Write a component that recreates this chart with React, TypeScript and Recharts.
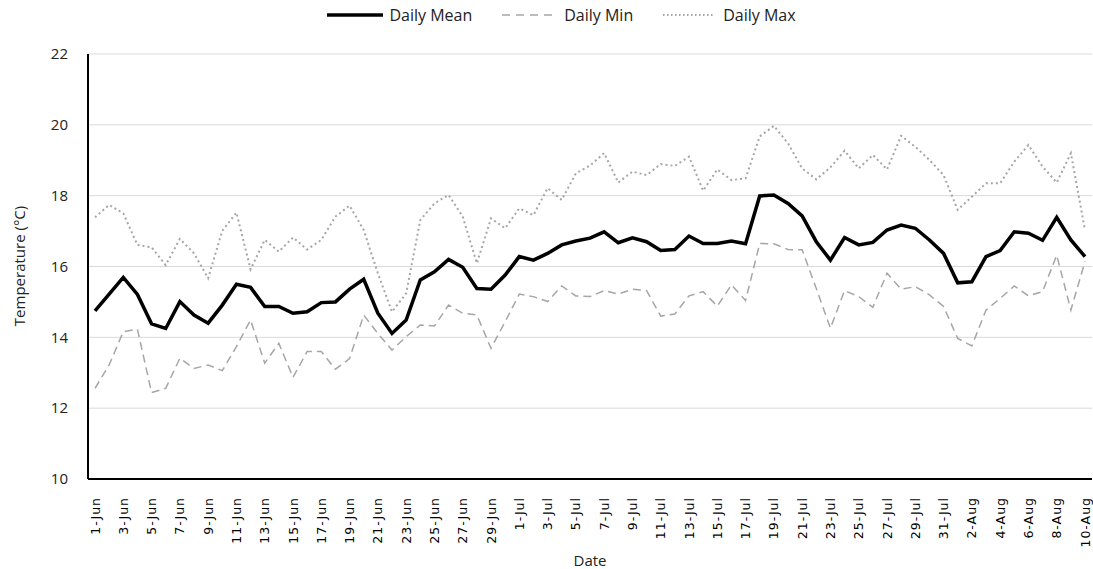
import { LineChart, Line, XAxis, YAxis, CartesianGrid, Legend } from 'recharts';

// dates 1-Jun .. 10-Aug
const months: [string, number][] = [['Jun', 30], ['Jul', 31], ['Aug', 10]];
const dates: string[] = months.flatMap(([m, n]) => Array.from({ length: n }, (_, i) => `${i + 1}-${m}`));

const dailyMean = [
  14.75, 15.22, 15.69, 15.21, 14.38, 14.25, 15.01, 14.63, 14.4, 14.91,
  15.5, 15.41, 14.87, 14.87, 14.68, 14.72, 14.98, 15.0, 15.36, 15.64,
  14.68, 14.11, 14.49, 15.62, 15.85, 16.2, 15.98, 15.38, 15.36, 15.76,
  16.28, 16.18, 16.37, 16.61, 16.72, 16.8, 16.98, 16.67, 16.81, 16.7,
  16.45, 16.48, 16.86, 16.65, 16.65, 16.72, 16.64, 17.99, 18.02, 17.78,
  17.43, 16.7, 16.18, 16.82, 16.61, 16.68, 17.03, 17.17, 17.08, 16.75,
  16.37, 15.54, 15.57, 16.28, 16.45, 16.98, 16.94, 16.74, 17.39, 16.75,
  16.28
];

const dailyMin = [
  12.56, 13.22, 14.16, 14.23, 12.44, 12.56, 13.41, 13.12, 13.22, 13.06,
  13.74, 14.49, 13.27, 13.83, 12.87, 13.6, 13.6, 13.1, 13.4, 14.63,
  14.11, 13.64, 14.02, 14.35, 14.32, 14.91, 14.68, 14.63, 13.69, 14.44,
  15.22, 15.15, 15.01, 15.45, 15.17, 15.15, 15.32, 15.22, 15.36, 15.32,
  14.6, 14.66, 15.17, 15.29, 14.88, 15.48, 15.04, 16.65, 16.64, 16.48,
  16.47, 15.38, 14.26, 15.32, 15.15, 14.85, 15.81, 15.36, 15.43, 15.2,
  14.87, 13.97, 13.76, 14.77, 15.1, 15.45, 15.17, 15.29, 16.32, 14.77,
  16.14
];

const dailyMax = [
  17.39, 17.74, 17.5, 16.61, 16.54, 16.04, 16.78, 16.37, 15.67, 17.01,
  17.52, 15.92, 16.75, 16.42, 16.82, 16.48, 16.75, 17.41, 17.72, 17.03,
  15.81, 14.72, 15.24, 17.31, 17.78, 18.02, 17.41, 16.09, 17.36, 17.08,
  17.64, 17.45, 18.21, 17.88, 18.63, 18.85, 19.2, 18.37, 18.68, 18.58,
  18.89, 18.84, 19.1, 18.14, 18.74, 18.44, 18.49, 19.67, 19.97, 19.48,
  18.77, 18.46, 18.8, 19.27, 18.77, 19.15, 18.74, 19.69, 19.38, 19.01,
  18.58, 17.6, 17.97, 18.35, 18.35, 18.96, 19.43, 18.82, 18.37, 19.2,
  17.03
];

const yTicks = [10, 12, 14, 16, 18, 20, 22];

const data = dates.map((d, i) => ({
  date: d,
  mean: dailyMean[i],
  min: dailyMin[i],
  max: dailyMax[i]
}));

const labelFont = 'Open Sans, sans-serif';
const tickFont = 'DejaVu Sans, Verdana, sans-serif';

const DateTick = ({ x, y, payload }: any) => (
  <text
    transform={`translate(${x},${y + 10}) rotate(-90)`}
    textAnchor="end"
    dominantBaseline="central"
    fontFamily={tickFont}
    fontSize={12.5}
    letterSpacing={1}
    fill="#000"
  >
    {payload.value}
  </text>
);

const YTitle = () => (
  <text
    transform="translate(19,266) rotate(-90)"
    textAnchor="middle"
    dominantBaseline="central"
    fontFamily={labelFont}
    fontSize={15}
    fill="#222"
  >
    Temperature (°C)
  </text>
);

const LegendBox = () => (
  <div style={{ display: 'flex', justifyContent: 'center', alignItems: 'center', height: 30, paddingLeft: 30, fontFamily: labelFont, fontSize: 16, color: '#222' }}>
    <svg width={58} height={10}><line x1={1} y1={5} x2={57} y2={5} stroke="#000" strokeWidth={3.5} /></svg>
    <span style={{ marginLeft: 5, marginRight: 28 }}>Daily Mean</span>
    <svg width={54} height={10}><line x1={2} y1={5} x2={52} y2={5} stroke="#a6a6a6" strokeWidth={1.5} strokeDasharray="8 6" /></svg>
    <span style={{ marginLeft: 10, marginRight: 28 }}>Daily Min</span>
    <svg width={54} height={10}><line x1={2} y1={5} x2={52} y2={5} stroke="#a6a6a6" strokeWidth={1.8} strokeDasharray="1.5 2.5" /></svg>
    <span style={{ marginLeft: 8 }}>Daily Max</span>
  </div>
);

export default function App() {
  return (
    <div style={{ position: 'absolute', left: 0, top: 0, width: 1093, height: 569, background: '#fff' }}>
      <LineChart width={1093} height={569} data={data} margin={{ top: 24, right: 1, left: 0, bottom: 0 }}>
        <Legend verticalAlign="top" content={<LegendBox />} wrapperStyle={{ top: 0 }} />
        <CartesianGrid horizontal vertical={false} stroke="#d9d9d9" />
        <XAxis
          dataKey="date"
          interval={1}
          tick={<DateTick />}
          tickLine={false}
          padding={{ left: 7, right: 7 }}
          axisLine={{ stroke: '#000', strokeWidth: 2 }}
          height={90}
          label={{ value: 'Date', position: 'insideBottom', offset: 3, fontFamily: labelFont, fontSize: 15, fill: '#222' }}
        />
        <YAxis
          domain={[10, 22]}
          ticks={yTicks}
          width={88}
          tickLine={false}
          axisLine={{ stroke: '#000', strokeWidth: 2 }}
          tick={{ fontFamily: labelFont, fontSize: 15, fill: '#222' }}
          tickMargin={14}
          label={<YTitle />}
        />
        <Line type="linear" dataKey="max" name="Daily Max" stroke="#a6a6a6" strokeWidth={2} strokeDasharray="2 3" dot={false} isAnimationActive={false} />
        <Line type="linear" dataKey="min" name="Daily Min" stroke="#a6a6a6" strokeWidth={1.5} strokeDasharray="8 5" dot={false} isAnimationActive={false} />
        <Line type="linear" dataKey="mean" name="Daily Mean" stroke="#000" strokeWidth={3.5} dot={false} isAnimationActive={false} />
      </LineChart>
    </div>
  );
}
